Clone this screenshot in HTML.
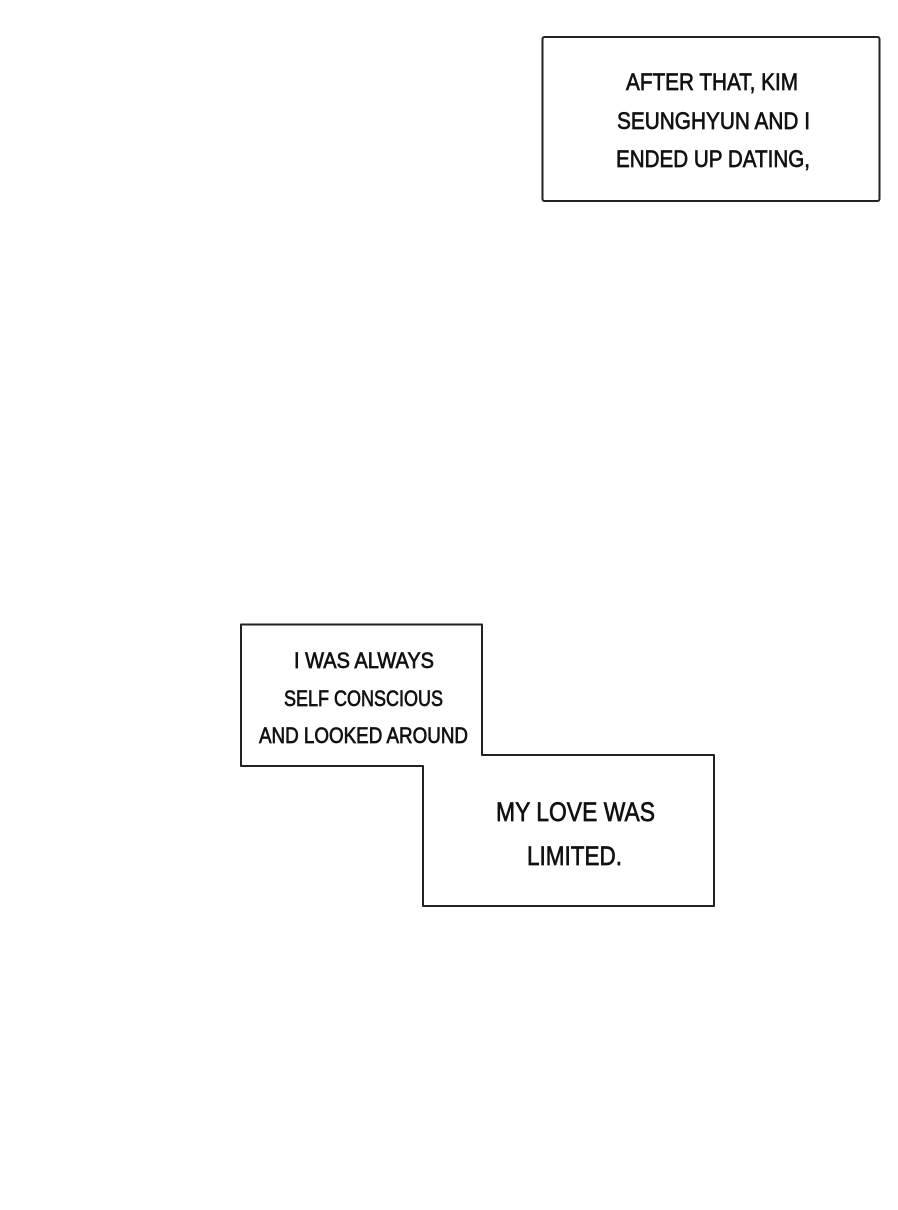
<!DOCTYPE html>
<html><head><meta charset="utf-8"><style>html,body{margin:0;padding:0;background:#fff}svg{display:block}</style></head>
<body>
<svg width="898" height="1210" viewBox="0 0 898 1210" xmlns="http://www.w3.org/2000/svg">
<rect width="898" height="1210" fill="#fff"/>
<g fill="none" stroke="#222" stroke-width="2" stroke-linejoin="round">
<rect x="542.5" y="37" width="337" height="164" rx="2"/>
<path d="M241 624.5 H482 V755 H714 V906 H423 V766 H241 Z"/>
</g>
<g font-family="'Liberation Sans', sans-serif" fill="#111" stroke="#111" stroke-width="0.7" text-anchor="start">
<text x="626" y="90" font-size="24" textLength="172" lengthAdjust="spacingAndGlyphs">AFTER THAT, KIM</text>
<text x="617" y="129" font-size="24" textLength="193" lengthAdjust="spacingAndGlyphs">SEUNGHYUN AND I</text>
<text x="616" y="167" font-size="24" textLength="194" lengthAdjust="spacingAndGlyphs">ENDED UP DATING,</text>
<text x="294" y="668" font-size="22" textLength="140" lengthAdjust="spacingAndGlyphs">I WAS ALWAYS</text>
<text x="284" y="706" font-size="22" textLength="159" lengthAdjust="spacingAndGlyphs">SELF CONSCIOUS</text>
<text x="259" y="743" font-size="22" textLength="209" lengthAdjust="spacingAndGlyphs">AND LOOKED AROUND</text>
<text x="496" y="821" font-size="27" textLength="159" lengthAdjust="spacingAndGlyphs">MY LOVE WAS</text>
<text x="527" y="865" font-size="27" textLength="95" lengthAdjust="spacingAndGlyphs">LIMITED.</text>
</g>
</svg>
</body></html>
